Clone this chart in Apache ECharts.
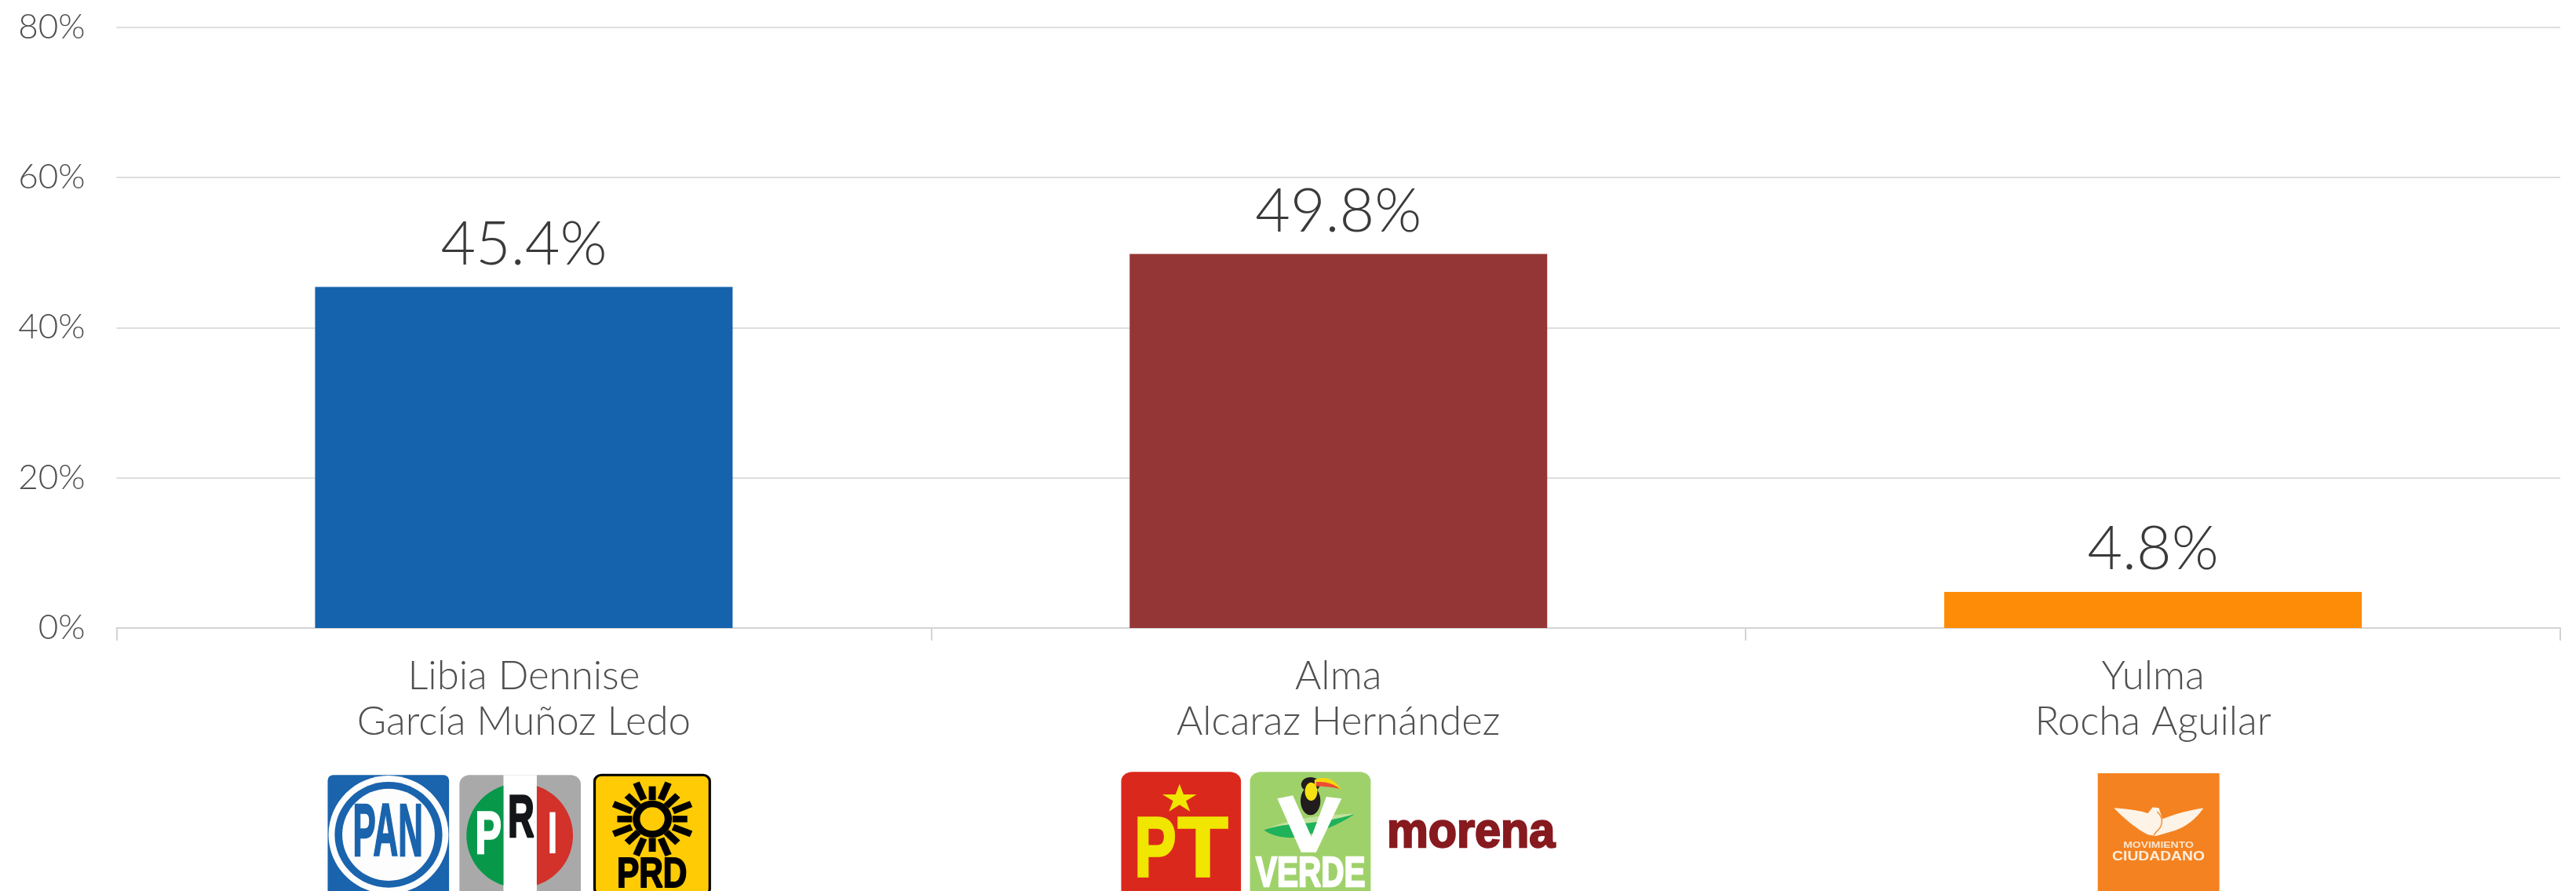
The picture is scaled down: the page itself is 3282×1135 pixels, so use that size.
<!DOCTYPE html>
<html><head><meta charset="utf-8">
<style>html,body{margin:0;padding:0;background:#fff}#c{width:3282px;height:1135px}</style>
<script src="https://cdn.jsdelivr.net/npm/echarts@6/dist/echarts.min.js"></script>
</head><body><div id="c"></div>
<script>
const categories = ['Libia Dennise\nGarcía Muñoz Ledo', 'Alma\nAlcaraz Hernández', 'Yulma\nRocha Aguilar'];
const shares = [45.4, 49.8, 4.8];
const barColors = ['#1663ad', '#943635', '#ff8c06'];
const FONT = 'Lato';
const LOGOFONT = '"Liberation Sans"';

function rect(x0, y0, x1, y1, r, fill, stroke, lw) {
  return {type:'rect', shape:{x:x0,y:y0,width:x1-x0,height:y1-y0,r:r}, style:{fill:fill,stroke:stroke||null,lineWidth:lw||0}};
}
function ell(cx, cy, rx, ry, fill, stroke, lw) {
  return {type:'ellipse', shape:{cx:cx,cy:cy,rx:rx,ry:ry}, style:{fill:fill,stroke:stroke||null,lineWidth:lw||0}};
}
// logo outlines: M/L/Q commands flattened to a polygon
function outline(d) {
  const t = d.trim().split(/\s+|(?=[MLQ])/).filter(Boolean);
  const pts = []; let i = 0, cmd = '';
  while (i < t.length) {
    if (/^[MLQ]/.test(t[i])) { cmd = t[i][0]; t[i] = t[i].slice(1); if (!t[i]) { i++; } }
    if (cmd === 'Q') {
      const p0 = pts[pts.length-1], c = [+t[i], +t[i+1]], e = [+t[i+2], +t[i+3]]; i += 4;
      for (let k = 1; k <= 12; k++) { const u = k/12, v = 1-u;
        pts.push([v*v*p0[0]+2*v*u*c[0]+u*u*e[0], v*v*p0[1]+2*v*u*c[1]+u*u*e[1]]); }
    } else { pts.push([+t[i], +t[i+1]]); i += 2; }
  }
  return pts;
}
function path(d, fill) { return {type:'polygon', shape:{points:outline(d)}, style:{fill:fill}}; }
function stroke(d, color, lw) { return {type:'polyline', shape:{points:outline(d)}, style:{fill:null,stroke:color,lineWidth:lw}}; }
// half-ellipse cap of the PRI circle, between two y values at the strip edge
function cap(cx, cy, rx, ry, side, xEdge, fill) {
  const pts = [], a0 = Math.acos(Math.abs(xEdge-cx)/rx);
  for (let k = 0; k <= 40; k++) {
    const a = -a0 + 2*a0*k/40;
    pts.push([cx + side*rx*Math.cos(a), cy + ry*Math.sin(a)]);
  }
  return {type:'polygon', shape:{points:pts}, style:{fill:fill}};
}
function txt(s, cx, cy, size, sx, fill, lw) {
  return {type:'text', x:cx, y:cy, scaleX:sx, style:{text:s, x:0, y:0, align:'center', verticalAlign:'middle',
    font:'bold '+size+'px '+LOGOFONT, fill:fill, stroke:lw?fill:null, lineWidth:lw||0}};
}
function logo(x, y, sx, sy, children) {
  return {type:'group', x:x, y:y, scaleX:1/sx, scaleY:1/sy, silent:true, children:children};
}
function rays(cx, cy) {
  const out = [], spans = [[72,125],[80,150],[70,128],[80,150]];
  for (let i = 0; i < 16; i++) {
    const a = i * Math.PI / 8, s = spans[i % 4];
    out.push({type:'line', shape:{x1:cx+s[0]*Math.cos(a), y1:cy+s[0]*Math.sin(a), x2:cx+s[1]*Math.cos(a), y2:cy+s[1]*Math.sin(a)},
      style:{stroke:'#000', lineWidth:25}});
  }
  return out;
}
function star(cx, cy, R, r) {
  const pts = [];
  for (let i = 0; i < 10; i++) {
    const a = -Math.PI/2 + i*Math.PI/5, q = i%2 ? r : R;
    pts.push([cx+q*Math.cos(a), cy+q*Math.sin(a)]);
  }
  return pts;
}
const logos = [
  // PAN, PRI, PRD
  logo(380, 960, 2.8, 3, [
    rect(105,82,538,560,20,'#1a63ad'),
    ell(322,310,214,226,'#fdfdfd'),
    ell(322,310,192,202,'#1a63ad'),
    ell(322,310,165,176,'#fdfdfd'),
    txt('PAN',320,312,286,0.43,'#1a63ad',7),

    rect(575,82,1008,560,36,'#a9a9a9'),
    rect(732,82,851,560,0,'#ffffff'),
    cap(790,313,190,200,-1,732,'#07984a'),
    cap(790,313,190,200,1,851,'#d2322a'),
    txt('P',678,318,226,0.62,'#ffffff',8),
    txt('R',795,257,226,0.58,'#141518',8),
    txt('I',907,318,226,0.62,'#ffffff',0),

    rect(1057,82,1468,540,24,'#ffcb05','#000',9),
    ...rays(1263,250),
    ell(1263,250,57,58,null,'#000',26),
    txt('PRD',1262,465,160,0.74,'#000',6)
  ]),
  // PT, VERDE, morena
  logo(1400, 960, 2.529, 3, [
    rect(72,70,458,560,36,'#da291c'),
    {type:'polygon', shape:{points:star(260,174,58,22)}, style:{fill:'#f0e600'}},
    txt('P',182,378,321,0.63,'#f0e600',10),
    txt('T',335,378,321,0.82,'#f0e600',10),

    rect(487,70,876,560,36,'#9fd16b'),
    ell(682,180,32,55,'#211d1e'),
    ell(682,118,30,28,'#211d1e'),
    ell(684,145,20,35,'#f5e214'),
    path('M695 100 Q745 75 782 138 Q740 115 695 125','#f5d90a'),
    path('M700 108 Q745 105 778 135 Q740 125 700 124','#ef4b35'),
    path('M532 292 Q640 235 825 230 Q740 262 640 268 Q570 275 532 292','#c3e29c'),
    path('M532 292 Q570 275 640 268 Q740 262 825 230 Q740 300 620 322 Q560 318 532 292','#1fb25a'),
    {type:'polygon', shape:{points:[[575,172],[625,160],[685,318],[733,165],[782,172],[700,377],[652,377]]}, style:{fill:'#ffffff'}},
    txt('VERDE',682,463,160,0.64,'#ffffff',7),

    txt('morena',1199,306,190,0.79,'#871a1e',7)
  ]),
  // Movimiento Ciudadano
  logo(2620, 960, 3, 3, [
    rect(158,75,623,560,0,'#f58220'),
    path('M220 208 Q300 212 350 228 L368 205 L392 208 L405 250 Q480 220 562 208 Q520 270 450 295 L380 315 L350 310 Q290 280 220 208','#fdf3e7'),
    stroke('M385 222 Q415 250 395 285 Q380 300 372 312','#f58220',4),
    txt('MOVIMIENTO',390,352,34,1.23,'#fbe6cf',0),
    txt('CIUDADANO',390,395,49,1.18,'#fdeedd',0)
  ])
];

const chart = echarts.init(document.getElementById('c'), null, {renderer:'canvas'});
chart.setOption({
  animation:false,
  backgroundColor:'#ffffff',
  grid:{left:148.5, right:20, top:34.5, bottom:335},
  xAxis:{
    type:'category', data:categories,
    axisLine:{lineStyle:{color:'#d4d4d4', width:2}},
    axisTick:{show:true, length:16, alignWithLabel:false, lineStyle:{color:'#d4d4d4', width:2}},
    axisLabel:{margin:33, color:'#505050', fontFamily:FONT, fontWeight:300, fontSize:51, lineHeight:58, interval:0}
  },
  yAxis:{
    type:'value', min:0, max:80, interval:20,
    axisLine:{show:false}, axisTick:{show:false},
    axisLabel:{margin:40, color:'#505050', fontFamily:FONT, fontWeight:300, fontSize:44, formatter:'{value}%'},
    splitLine:{lineStyle:{color:'#dedede', width:2}}
  },
  series:[{
    type:'bar', barWidth:532,
    data:shares.map((v,i)=>({value:v, itemStyle:{color:barColors[i]}})),
    label:{show:true, position:'top', distance:15, color:'#3a3a3a', fontFamily:FONT, fontWeight:300, fontSize:77,
      formatter:p=>p.value.toFixed(1)+'%'}
  }],
  graphic:logos
});
</script></body></html>
